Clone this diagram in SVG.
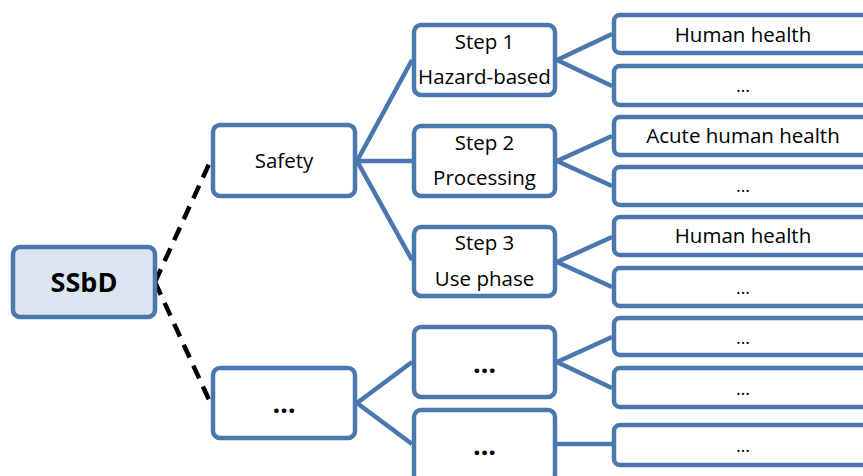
<svg xmlns="http://www.w3.org/2000/svg" width="863" height="476" viewBox="0 0 863 476">
<style>
.box{fill:#ffffff;stroke:#4a78ae;stroke-width:4.5}
.root{fill:#dbe5f1;stroke:#4a78ae;stroke-width:4.5}
.t{font-family:"Open Sans","Liberation Sans",sans-serif;font-size:20.5px;fill:#000;text-anchor:middle}
.b{font-family:"Open Sans","Liberation Sans",sans-serif;font-size:27px;font-weight:bold;fill:#000;text-anchor:middle}
.d{font-family:"Open Sans","Liberation Sans",sans-serif;font-size:27px;font-weight:bold;fill:#000;text-anchor:middle}
.s{font-family:"Open Sans","Liberation Sans",sans-serif;font-size:18px;fill:#000;text-anchor:middle}
.c{fill:none;stroke:#4a78ae;stroke-width:4.5}
.dash{fill:none;stroke:#000;stroke-width:4.5;stroke-dasharray:14 9}
</style>
<g id="connectors">
<path class="dash" d="M155,282 L210,162"/>
<path class="dash" d="M155,282 L210,402"/>
<path class="c" d="M412,60 L357,161 L412,260 M357,161 L412,161"/>
<path class="c" d="M612,34 L557,60 L612,86"/>
<path class="c" d="M612,136 L557,161 L612,186"/>
<path class="c" d="M612,237 L557,262 L612,287"/>
<path class="c" d="M412,362 L357,403 L412,444"/>
<path class="c" d="M612,337 L557,362 L612,388"/>
<path class="c" d="M557,444 L612,444"/>
</g>
<g id="ssbd"><rect class="root" x="13" y="247" width="142" height="70" rx="7"/><text class="b" x="84" y="292">SSbD</text></g>
<g id="safety"><rect class="box" x="213" y="125" width="142" height="71" rx="7"/><text class="t" x="284" y="168">Safety</text></g>
<g id="other"><rect class="box" x="213" y="368" width="142" height="70" rx="7"/><text class="d" x="284" y="413">…</text></g>
<g id="step1"><rect class="box" x="414" y="25" width="141" height="70" rx="7"/><text class="t" x="484.5" y="49">Step 1</text><text class="t" x="484.5" y="84">Hazard-based</text></g>
<g id="step2"><rect class="box" x="414" y="126" width="141" height="70" rx="7"/><text class="t" x="484.5" y="150">Step 2</text><text class="t" x="484.5" y="185">Processing</text></g>
<g id="step3"><rect class="box" x="414" y="227" width="141" height="69" rx="7"/><text class="t" x="484.5" y="250">Step 3</text><text class="t" x="484.5" y="286">Use phase</text></g>
<g id="mid1"><rect class="box" x="414" y="327" width="141" height="70" rx="7"/><text class="d" x="484.5" y="373">…</text></g>
<g id="mid2"><rect class="box" x="414" y="410" width="141" height="72" rx="7"/><text class="d" x="484.5" y="455">…</text></g>
<g id="r1"><rect class="box" x="614" y="15" width="258" height="38" rx="6"/><text class="t" x="743" y="42">Human health</text></g>
<g id="r2"><rect class="box" x="614" y="66" width="258" height="39" rx="6"/><text class="s" x="743" y="92">…</text></g>
<g id="r3"><rect class="box" x="614" y="117" width="258" height="38" rx="6"/><text class="t" x="743" y="143">Acute human health</text></g>
<g id="r4"><rect class="box" x="614" y="167" width="258" height="38" rx="6"/><text class="s" x="743" y="192">…</text></g>
<g id="r5"><rect class="box" x="614" y="217" width="258" height="38" rx="6"/><text class="t" x="743" y="243">Human health</text></g>
<g id="r6"><rect class="box" x="614" y="268" width="258" height="38" rx="6"/><text class="s" x="743" y="294">…</text></g>
<g id="r7"><rect class="box" x="614" y="318" width="258" height="37" rx="6"/><text class="s" x="743" y="344">…</text></g>
<g id="r8"><rect class="box" x="614" y="368" width="258" height="39" rx="6"/><text class="s" x="743" y="395">…</text></g>
<g id="r9"><rect class="box" x="614" y="425" width="258" height="40" rx="6"/><text class="s" x="743" y="452">…</text></g>
</svg>
